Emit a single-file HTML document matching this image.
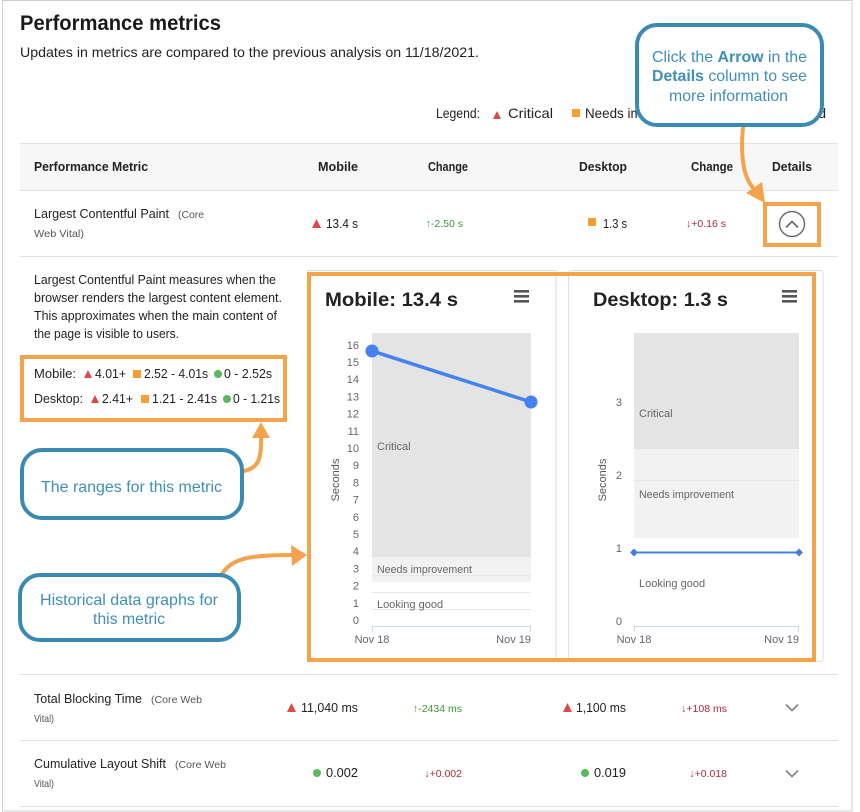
<!DOCTYPE html>
<html>
<head>
<meta charset="utf-8">
<style>
html,body{margin:0;padding:0;background:#fff;}
svg{display:block;}
text{font-family:"Liberation Sans",sans-serif;}
</style>
</head>
<body>
<svg width="860" height="812" viewBox="0 0 860 812" xmlns="http://www.w3.org/2000/svg">
<!-- outer frame -->
<rect x="2.5" y="0.5" width="849.5" height="810.5" fill="#fff" stroke="#cfcfcf" stroke-width="1"/>

<!-- title -->
<text x="20" y="30" font-size="21" font-weight="bold" fill="#1a1a1a" textLength="201" lengthAdjust="spacingAndGlyphs">Performance metrics</text>
<text x="20" y="57" font-size="14" fill="#222" textLength="459" lengthAdjust="spacingAndGlyphs">Updates in metrics are compared to the previous analysis on 11/18/2021.</text>

<!-- legend -->
<text x="436" y="118" font-size="14" fill="#222" textLength="44" lengthAdjust="spacingAndGlyphs">Legend:</text>
<polygon points="493,119 501,119 497,111" fill="#e04848"/>
<text x="508" y="118" font-size="14" fill="#222" textLength="45" lengthAdjust="spacingAndGlyphs">Critical</text>
<rect x="572" y="109" width="8" height="8" fill="#f5a030"/>
<text x="585" y="118" font-size="14" fill="#222" textLength="120" lengthAdjust="spacingAndGlyphs">Needs improvement</text>
<circle cx="735" cy="113" r="4" fill="#5cb85c"/>
<text x="826" y="118" font-size="14" fill="#222" text-anchor="end">Looking good</text>

<!-- header row -->
<rect x="20" y="143" width="818" height="47" fill="#f7f7f7"/>
<line x1="20" y1="143.5" x2="838" y2="143.5" stroke="#e2e2e2"/>
<line x1="20" y1="190.5" x2="838" y2="190.5" stroke="#e2e2e2"/>
<g font-size="13" font-weight="bold" fill="#222">
<text x="34" y="171" textLength="114" lengthAdjust="spacingAndGlyphs">Performance Metric</text>
<text x="318" y="171" textLength="40" lengthAdjust="spacingAndGlyphs">Mobile</text>
<text x="428" y="171" textLength="40" lengthAdjust="spacingAndGlyphs">Change</text>
<text x="579" y="171" textLength="48" lengthAdjust="spacingAndGlyphs">Desktop</text>
<text x="691" y="171" textLength="42" lengthAdjust="spacingAndGlyphs">Change</text>
<text x="772" y="171" textLength="40" lengthAdjust="spacingAndGlyphs">Details</text>
</g>

<!-- row 1 -->
<text x="34" y="218" font-size="13" fill="#222" textLength="135" lengthAdjust="spacingAndGlyphs">Largest Contentful Paint</text>
<text x="178" y="218" font-size="10.5" fill="#555" textLength="26" lengthAdjust="spacingAndGlyphs">(Core</text>
<text x="34" y="237" font-size="10.5" fill="#555" textLength="50" lengthAdjust="spacingAndGlyphs">Web Vital)</text>
<polygon points="312,228 321,228 316.5,219" fill="#e04848"/>
<text x="326" y="228" font-size="13" fill="#222" textLength="32" lengthAdjust="spacingAndGlyphs">13.4 s</text>
<text x="463" y="227" font-size="10.5" fill="#3a9a3a" text-anchor="end">↑-2.50 s</text>
<rect x="588" y="218" width="8" height="8" fill="#f5a030"/>
<text x="603" y="228" font-size="13" fill="#222" textLength="24" lengthAdjust="spacingAndGlyphs">1.3 s</text>
<text x="726" y="227" font-size="10.5" fill="#b02a3a" text-anchor="end">↓+0.16 s</text>
<circle cx="792" cy="224" r="12.5" fill="none" stroke="#6f6f6f" stroke-width="1.5"/>
<polyline points="786,227.5 792,221.5 798,227.5" fill="none" stroke="#6f6f6f" stroke-width="1.8"/>
<rect x="765" y="204" width="54" height="41" fill="none" stroke="#f4a24b" stroke-width="4"/>
<line x1="20" y1="256.5" x2="838" y2="256.5" stroke="#e2e2e2"/>

<!-- expanded left text -->
<g font-size="13" fill="#222">
<text x="34" y="284" textLength="242" lengthAdjust="spacingAndGlyphs">Largest Contentful Paint measures when the</text>
<text x="34" y="302" textLength="248" lengthAdjust="spacingAndGlyphs">browser renders the largest content element.</text>
<text x="34" y="320" textLength="243" lengthAdjust="spacingAndGlyphs">This approximates when the main content of</text>
<text x="34" y="338" textLength="145" lengthAdjust="spacingAndGlyphs">the page is visible to users.</text>
</g>

<!-- ranges box -->
<rect x="22" y="357" width="263" height="63" fill="none" stroke="#f4a24b" stroke-width="4"/>
<g font-size="12.5" fill="#222">
<text x="34" y="378" textLength="42" lengthAdjust="spacingAndGlyphs">Mobile:</text>
<polygon points="84,378 92,378 88,370" fill="#e04848"/>
<text x="95" y="378" textLength="31" lengthAdjust="spacingAndGlyphs">4.01+</text>
<rect x="133" y="370" width="8" height="8" fill="#f5a030"/>
<text x="144" y="378" textLength="64" lengthAdjust="spacingAndGlyphs">2.52 - 4.01s</text>
<circle cx="218" cy="374" r="4" fill="#5cb85c"/>
<text x="224" y="378" textLength="48" lengthAdjust="spacingAndGlyphs">0 - 2.52s</text>
<text x="34" y="403" textLength="49" lengthAdjust="spacingAndGlyphs">Desktop:</text>
<polygon points="91,403 99,403 95,395" fill="#e04848"/>
<text x="102" y="403" textLength="31" lengthAdjust="spacingAndGlyphs">2.41+</text>
<rect x="141" y="395" width="8" height="8" fill="#f5a030"/>
<text x="152" y="403" textLength="65" lengthAdjust="spacingAndGlyphs">1.21 - 2.41s</text>
<circle cx="227" cy="399" r="4" fill="#5cb85c"/>
<text x="233" y="403" textLength="47" lengthAdjust="spacingAndGlyphs">0 - 1.21s</text>
</g>

<!-- chart cards -->
<rect x="307.5" y="270.5" width="248.5" height="391" fill="#fff" stroke="#dcdcdc"/>
<rect x="568.5" y="270.5" width="254.5" height="391" rx="3" fill="#fff" stroke="#dcdcdc"/>

<!-- Mobile chart -->
<text x="325" y="306" font-size="19.5" font-weight="bold" fill="#222" textLength="133" lengthAdjust="spacingAndGlyphs">Mobile: 13.4 s</text>
<g fill="#555"><rect x="514" y="290" width="15" height="2.6"/><rect x="514" y="295" width="15" height="2.6"/><rect x="514" y="300" width="15" height="2.6"/></g>
<rect x="372" y="333" width="159" height="224" fill="#e4e4e4"/>
<rect x="372" y="557" width="159" height="25" fill="#f2f2f2"/>
<g stroke="#e6e6e6" stroke-width="1">
<line x1="372" y1="575.5" x2="531" y2="575.5"/>
<line x1="372" y1="592.5" x2="531" y2="592.5"/>
<line x1="372" y1="609.5" x2="531" y2="609.5"/>
</g>
<line x1="372" y1="626.5" x2="531" y2="626.5" stroke="#ccd6eb"/>
<line x1="372.5" y1="626" x2="372.5" y2="632" stroke="#ccd6eb"/>
<line x1="530.5" y1="626" x2="530.5" y2="632" stroke="#ccd6eb"/>
<g font-size="11" fill="#666" text-anchor="end">
<text x="359" y="624">0</text>
<text x="359" y="607">1</text>
<text x="359" y="589.6">2</text>
<text x="359" y="572.4">3</text>
<text x="359" y="555.2">4</text>
<text x="359" y="538">5</text>
<text x="359" y="520.8">6</text>
<text x="359" y="503.6">7</text>
<text x="359" y="486.4">8</text>
<text x="359" y="469.2">9</text>
<text x="359" y="452">10</text>
<text x="359" y="434.8">11</text>
<text x="359" y="417.6">12</text>
<text x="359" y="400.4">13</text>
<text x="359" y="383.2">14</text>
<text x="359" y="366">15</text>
<text x="359" y="348.8">16</text>
</g>
<text transform="translate(339,480) rotate(-90)" font-size="11" fill="#555" text-anchor="middle">Seconds</text>
<g font-size="11" fill="#666">
<text x="377" y="450">Critical</text>
<text x="377" y="573" textLength="95" lengthAdjust="spacingAndGlyphs">Needs improvement</text>
<text x="377" y="608">Looking good</text>
<text x="372" y="643" text-anchor="middle">Nov 18</text>
<text x="531" y="643" text-anchor="end">Nov 19</text>
</g>
<line x1="372" y1="351" x2="531" y2="402" stroke="#4482ee" stroke-width="3.5"/>
<circle cx="372" cy="351" r="6.5" fill="#4482ee"/>
<circle cx="531" cy="402" r="6.5" fill="#4482ee"/>

<!-- Desktop chart -->
<text x="593" y="306" font-size="19.5" font-weight="bold" fill="#222" textLength="135" lengthAdjust="spacingAndGlyphs">Desktop: 1.3 s</text>
<g fill="#555"><rect x="782" y="290" width="15" height="2.6"/><rect x="782" y="295" width="15" height="2.6"/><rect x="782" y="300" width="15" height="2.6"/></g>
<rect x="634" y="333" width="165" height="116" fill="#e4e4e4"/>
<rect x="634" y="449" width="165" height="89" fill="#f2f2f2"/>
<line x1="634" y1="480.5" x2="799" y2="480.5" stroke="#e8e8e8"/>
<line x1="634" y1="626.5" x2="799" y2="626.5" stroke="#ccd6eb"/>
<line x1="634.5" y1="626" x2="634.5" y2="632" stroke="#ccd6eb"/>
<line x1="798.5" y1="626" x2="798.5" y2="632" stroke="#ccd6eb"/>
<g font-size="11" fill="#666" text-anchor="end">
<text x="622" y="625">0</text>
<text x="622" y="552">1</text>
<text x="622" y="479">2</text>
<text x="622" y="406">3</text>
</g>
<text transform="translate(606,480) rotate(-90)" font-size="11" fill="#555" text-anchor="middle">Seconds</text>
<g font-size="11" fill="#666">
<text x="639" y="417">Critical</text>
<text x="639" y="498" textLength="95" lengthAdjust="spacingAndGlyphs">Needs improvement</text>
<text x="639" y="587">Looking good</text>
<text x="634" y="643" text-anchor="middle">Nov 18</text>
<text x="799" y="643" text-anchor="end">Nov 19</text>
</g>
<line x1="634" y1="552.5" x2="799" y2="552.5" stroke="#4a7fd8" stroke-width="2"/>
<polygon points="634,548.5 638,552.5 634,556.5 630,552.5" fill="#4a7fd8"/>
<polygon points="799,548.5 803,552.5 799,556.5 795,552.5" fill="#4a7fd8"/>

<!-- orange chart box -->
<rect x="309" y="274" width="505" height="386" fill="none" stroke="#f4a24b" stroke-width="4"/>

<!-- bottom rows -->
<line x1="20" y1="674.5" x2="838" y2="674.5" stroke="#e2e2e2"/>
<text x="34" y="703" font-size="13" fill="#222" textLength="108" lengthAdjust="spacingAndGlyphs">Total Blocking Time</text>
<text x="151" y="703" font-size="10.5" fill="#555" textLength="51" lengthAdjust="spacingAndGlyphs">(Core Web</text>
<text x="34" y="722" font-size="10.5" fill="#555" textLength="20" lengthAdjust="spacingAndGlyphs">Vital)</text>
<polygon points="287,712 296,712 291.5,703" fill="#e04848"/>
<text x="301" y="712" font-size="13" fill="#222" textLength="57" lengthAdjust="spacingAndGlyphs">11,040 ms</text>
<text x="462" y="712" font-size="10.5" fill="#3a9a3a" text-anchor="end">↑-2434 ms</text>
<polygon points="563,712 572,712 567.5,703" fill="#e04848"/>
<text x="576" y="712" font-size="13" fill="#222" textLength="50" lengthAdjust="spacingAndGlyphs">1,100 ms</text>
<text x="727" y="712" font-size="10.5" fill="#b02a3a" text-anchor="end">↓+108 ms</text>
<polyline points="786,704.5 792,710.5 798,704.5" fill="none" stroke="#888" stroke-width="1.8"/>
<line x1="20" y1="740.5" x2="838" y2="740.5" stroke="#e2e2e2"/>

<text x="34" y="768" font-size="13" fill="#222" textLength="132" lengthAdjust="spacingAndGlyphs">Cumulative Layout Shift</text>
<text x="175" y="768" font-size="10.5" fill="#555" textLength="51" lengthAdjust="spacingAndGlyphs">(Core Web</text>
<text x="34" y="787" font-size="10.5" fill="#555" textLength="20" lengthAdjust="spacingAndGlyphs">Vital)</text>
<circle cx="317" cy="773" r="4" fill="#5cb85c"/>
<text x="326" y="777" font-size="13" fill="#222" textLength="32" lengthAdjust="spacingAndGlyphs">0.002</text>
<text x="462" y="777" font-size="10.5" fill="#b02a3a" text-anchor="end">↓+0.002</text>
<circle cx="585" cy="773" r="4" fill="#5cb85c"/>
<text x="594" y="777" font-size="13" fill="#222" textLength="32" lengthAdjust="spacingAndGlyphs">0.019</text>
<text x="727" y="777" font-size="10.5" fill="#b02a3a" text-anchor="end">↓+0.018</text>
<polyline points="786,770.5 792,776.5 798,770.5" fill="none" stroke="#888" stroke-width="1.8"/>
<line x1="20" y1="806.5" x2="838" y2="806.5" stroke="#e2e2e2"/>

<!-- orange arrows -->
<g fill="none" stroke="#f4a24b" stroke-width="4" stroke-linecap="round">
<path d="M743,127 C740,160 744,180 756,191"/>
<path d="M244,471 C258,468 262,460 261,434"/>
<path d="M222,574 C232,558 250,555 293,555"/>
</g>
<g fill="#f4a24b">
<polygon points="746,193 765,203 762,182"/>
<polygon points="261,422 252,438 270,438"/>
<polygon points="307,555 291,545 292,566"/>
</g>

<!-- blue callouts -->
<g fill="#fff" stroke="#3a8bb4" stroke-width="4">
<rect x="637" y="25" width="185" height="100" rx="20"/>
<rect x="22" y="450" width="220" height="68" rx="20"/>
<rect x="20" y="575" width="219" height="65" rx="20"/>
</g>
<g font-size="16" fill="#3f8fbb" text-anchor="middle">
<text x="729.5" y="62" textLength="155" lengthAdjust="spacingAndGlyphs">Click the <tspan font-weight="bold">Arrow</tspan> in the</text>
<text x="729.5" y="81" textLength="155" lengthAdjust="spacingAndGlyphs"><tspan font-weight="bold">Details</tspan> column to see</text>
<text x="728.5" y="101" textLength="119" lengthAdjust="spacingAndGlyphs">more information</text>
<text x="131.5" y="492" textLength="181" lengthAdjust="spacingAndGlyphs">The ranges for this metric</text>
<text x="129" y="605" textLength="178" lengthAdjust="spacingAndGlyphs">Historical data graphs for</text>
<text x="129" y="624" textLength="72" lengthAdjust="spacingAndGlyphs">this metric</text>
</g>
</svg>
</body>
</html>
